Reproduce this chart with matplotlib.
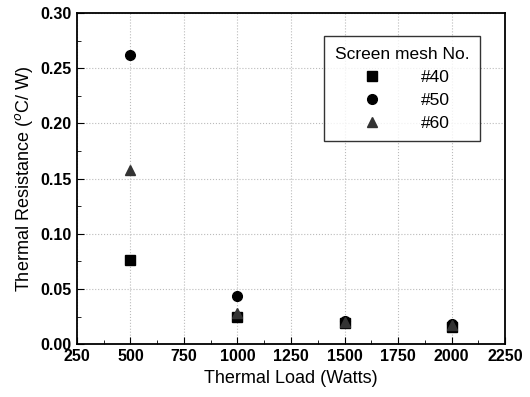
import matplotlib
matplotlib.use('Agg')
import matplotlib.pyplot as plt
from matplotlib.ticker import MultipleLocator

plt.rcParams['font.family'] = ['Liberation Sans', 'DejaVu Sans']

loads = [500, 1000, 1500, 2000]
mesh40 = [0.076, 0.025, 0.019, 0.016]
mesh50 = [0.262, 0.044, 0.021, 0.018]
mesh60 = [0.158, 0.028, 0.020, 0.017]

fig = plt.figure(figsize=(5.3, 3.97), dpi=100)
ax = fig.add_axes([0.145, 0.133, 0.808, 0.834])

ax.plot(loads, mesh40, 's', color='black', markersize=7, label='#40', linestyle='none')
ax.plot(loads, mesh50, 'o', color='black', markersize=7, label='#50', linestyle='none')
ax.plot(loads, mesh60, '^', color='#333333', markersize=7, label='#60', linestyle='none')

ax.set_xlim(250, 2250)
ax.set_ylim(0, 0.30)
ax.xaxis.set_major_locator(MultipleLocator(250))
ax.xaxis.set_minor_locator(MultipleLocator(125))
ax.yaxis.set_major_locator(MultipleLocator(0.05))
ax.yaxis.set_minor_locator(MultipleLocator(0.025))
ax.yaxis.set_major_formatter(plt.FuncFormatter(lambda v, p: f'{v:.2f}'))
ax.tick_params(which='both', direction='in', top=False, right=False)
ax.tick_params(which='major', length=5, labelsize=11.5)
ax.tick_params(which='minor', length=3)
for lab in ax.get_xticklabels() + ax.get_yticklabels():
    lab.set_fontweight('bold')
ax.grid(True, which='major', linestyle=':', color='#bbbbbb', linewidth=0.8)
for s in ax.spines.values():
    s.set_linewidth(1.3)

ax.set_xlabel('Thermal Load (Watts)', fontsize=13)
ax.set_ylabel('Thermal Resistance ($^{o}$C/ W)', fontsize=13)

leg = ax.legend(title='Screen mesh No.', loc='upper right', bbox_to_anchor=(0.961, 0.956),
                frameon=True, fancybox=False, edgecolor='black', fontsize=12.5,
                title_fontsize=12.5, handletextpad=1.8, borderpad=0.6, labelspacing=0.45)
leg.get_frame().set_linewidth(1.0)

fig.savefig('out.png', dpi=100)
